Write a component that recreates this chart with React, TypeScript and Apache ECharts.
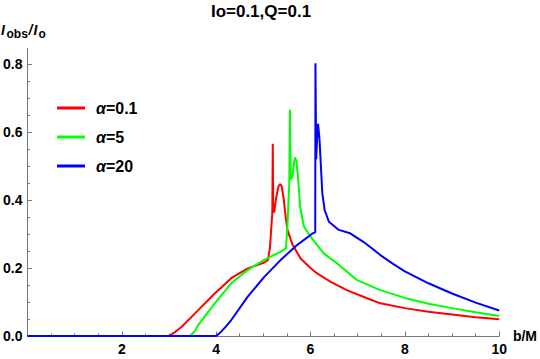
import React, { useEffect, useRef } from "react";
import * as echarts from "echarts";

// alpha = 0.1 (red)
const redB = [0, 3.0, 3.1, 3.27, 3.62, 3.97, 4.32, 4.67, 5.02, 5.1, 5.14, 5.17, 5.19, 5.2, 5.21, 5.23, 5.27, 5.32, 5.357, 5.39, 5.43, 5.47, 5.51, 5.62, 5.79, 6.0, 6.14, 6.42, 6.77, 7.2, 7.48, 8, 8.5, 9, 9.5, 10];
const redI = [0, 0, 0.009, 0.027, 0.076, 0.125, 0.17, 0.199, 0.216, 0.224, 0.26, 0.32, 0.36, 0.565, 0.38, 0.363, 0.405, 0.44, 0.447, 0.44, 0.405, 0.355, 0.312, 0.268, 0.228, 0.2, 0.184, 0.16, 0.135, 0.111, 0.096, 0.082, 0.071, 0.063, 0.055, 0.049];
// alpha = 5 (green)
const greenB = [0, 3.45, 3.55, 3.62, 3.97, 4.32, 4.67, 5.02, 5.37, 5.48, 5.51, 5.55, 5.565, 5.58, 5.62, 5.65, 5.67, 5.7, 5.74, 5.78, 5.86, 6.0, 6.28, 6.56, 6.98, 7.48, 8, 8.5, 9, 9.5, 10];
const greenI = [0, 0, 0.015, 0.032, 0.096, 0.155, 0.194, 0.224, 0.248, 0.258, 0.322, 0.45, 0.665, 0.46, 0.47, 0.51, 0.525, 0.515, 0.46, 0.38, 0.322, 0.292, 0.243, 0.214, 0.165, 0.135, 0.112, 0.095, 0.082, 0.07, 0.059];
// alpha = 20 (blue)
const blueB = [0, 4.0, 4.1, 4.2, 4.32, 4.67, 5.02, 5.37, 5.72, 6.05, 6.1, 6.105, 6.12, 6.14, 6.16, 6.19, 6.22, 6.25, 6.3, 6.39, 6.6, 6.84, 7.12, 7.3, 7.48, 7.75, 8, 8.5, 9, 9.5, 10];
const blueI = [0, 0, 0.012, 0.027, 0.047, 0.116, 0.174, 0.224, 0.268, 0.302, 0.305, 0.802, 0.52, 0.58, 0.624, 0.58, 0.5, 0.42, 0.37, 0.336, 0.312, 0.302, 0.277, 0.258, 0.238, 0.212, 0.19, 0.155, 0.125, 0.098, 0.075];

const seriesNames = ["α=0.1", "α=5", "α=20"];
const seriesColors = ["#ff0000", "#00ff00", "#0000ff"];
const yMajor = [0, 0.2, 0.4, 0.6, 0.8];
const yMinor = [0.05, 0.1, 0.15, 0.25, 0.3, 0.35, 0.45, 0.5, 0.55, 0.65, 0.7, 0.75];

const FONT = "Liberation Sans, Arial, sans-serif";
const AXIS = "#777777";

const zip = (xs: number[], ys: number[]) => xs.map((x, i) => [x, ys[i]]);

export default function App() {
  const ref = useRef<HTMLDivElement>(null);
  useEffect(() => {
    if (!ref.current) return;
    const chart = echarts.init(ref.current, undefined, { renderer: "svg" });
    const data = [zip(redB, redI), zip(greenB, greenI), zip(blueB, blueI)];
    chart.setOption({
      animation: false,
      backgroundColor: "#ffffff",
      grid: { left: 24.7, right: 40, top: 48.3, bottom: 23, containLabel: false },
      legend: {
        orient: "vertical",
        left: 52,
        top: 95,
        itemGap: 13,
        itemWidth: 28,
        itemHeight: 3,
        icon: "rect",
        selectedMode: false,
        data: seriesNames,
        formatter: (name: string) => `{a|${name[0]}}{b|${name.slice(1)}}`,
        textStyle: {
          rich: {
            a: { fontFamily: FONT, fontSize: 16, fontWeight: "bold", fontStyle: "italic", color: "#000", lineHeight: 18, padding: [0, 0, 0, 6] },
            b: { fontFamily: FONT, fontSize: 16, fontWeight: "bold", color: "#000", lineHeight: 18 },
          },
        },
      },
      xAxis: {
        type: "value",
        min: 0,
        max: 10,
        interval: 2,
        name: "b/M",
        nameLocation: "end",
        nameGap: 12,
        nameTextStyle: { fontFamily: FONT, fontSize: 14, fontWeight: "bold", color: "#000", verticalAlign: "middle" },
        axisLine: { onZero: true, lineStyle: { color: AXIS, width: 1 } },
        axisTick: { show: true, inside: true, length: 4.5, lineStyle: { color: AXIS } },
        minorTick: { show: true, splitNumber: 4, length: 2.5, lineStyle: { color: AXIS } },
        splitLine: { show: false },
        minorSplitLine: { show: false },
        axisLabel: {
          margin: 6,
          fontFamily: FONT,
          fontSize: 14,
          fontWeight: "bold",
          color: "#000",
          formatter: (v: number) => (v === 0 ? "" : String(v)),
        },
      },
      yAxis: [
        {
          type: "value",
          min: 0,
          max: 0.846,
          interval: 0.2,
          position: "left",
          axisLine: { show: true, onZero: false, lineStyle: { color: AXIS, width: 1 } },
          axisTick: { show: true, inside: true, length: 4.5, customValues: yMajor, lineStyle: { color: AXIS } },
          splitLine: { show: false },
          axisLabel: {
            margin: 5,
            fontFamily: FONT,
            fontSize: 14,
            fontWeight: "bold",
            color: "#000",
            customValues: yMajor,
            formatter: (v: number) => v.toFixed(1),
          },
        },
        {
          type: "value",
          min: 0,
          max: 0.846,
          interval: 0.2,
          position: "left",
          offset: 0,
          axisLine: { show: false },
          axisTick: { show: true, inside: true, length: 2.5, customValues: yMinor, lineStyle: { color: AXIS } },
          axisLabel: { show: false },
          splitLine: { show: false },
        },
      ],
      series: data.map((d, i) => ({
        name: seriesNames[i],
        type: "line",
        data: d,
        yAxisIndex: 0,
        showSymbol: false,
        symbol: "none",
        smooth: false,
        color: seriesColors[i],
        lineStyle: { color: seriesColors[i], width: 2 },
        z: 2 + i,
      })),
      graphic: [
        {
          type: "text",
          x: 261,
          y: 11,
          style: { text: "Io=0.1,Q=0.1", font: `bold 17px ${FONT}`, fill: "#000", textAlign: "center", textVerticalAlign: "middle" },
        },
        { type: "text", x: 1, y: 29.5, style: { text: "I", font: `italic bold 14px ${FONT}`, fill: "#000", textVerticalAlign: "middle" } },
        { type: "text", x: 6.5, y: 33.5, style: { text: "obs", font: `bold 12px ${FONT}`, fill: "#000", textVerticalAlign: "middle" } },
        { type: "text", x: 28.5, y: 29.5, style: { text: "/", font: `italic bold 14px ${FONT}`, fill: "#000", textVerticalAlign: "middle" } },
        { type: "text", x: 33.5, y: 29.5, style: { text: "I", font: `italic bold 14px ${FONT}`, fill: "#000", textVerticalAlign: "middle" } },
        { type: "text", x: 38.5, y: 33.5, style: { text: "o", font: `bold 12px ${FONT}`, fill: "#000", textVerticalAlign: "middle" } },
      ],
    });
    return () => chart.dispose();
  }, []);
  return <div ref={ref} style={{ position: "fixed", left: 0, top: 0, width: 540, height: 359 }} />;
}
